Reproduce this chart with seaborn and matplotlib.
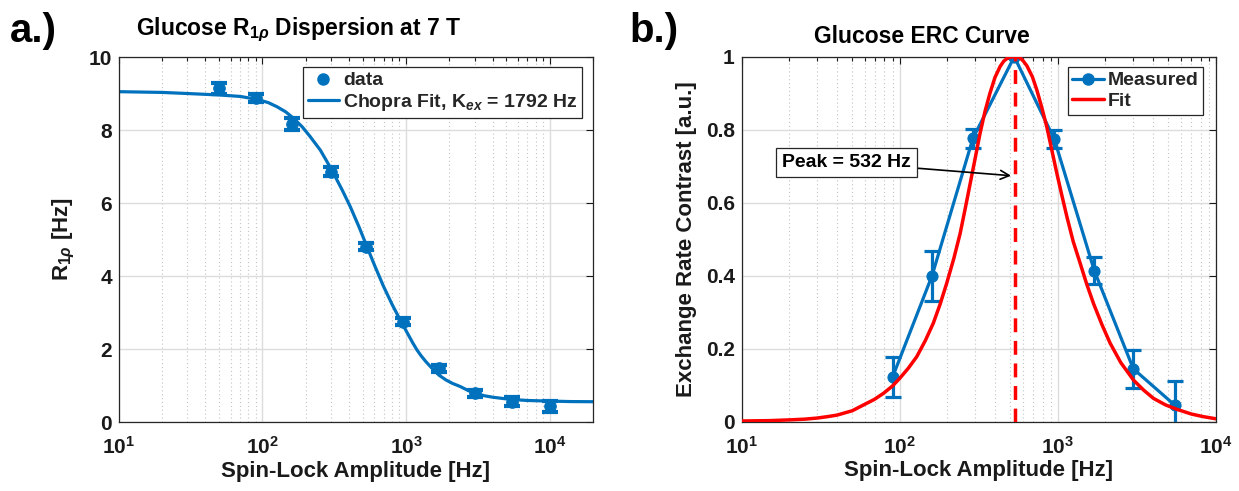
import matplotlib
matplotlib.use("Agg")
import matplotlib.pyplot as plt
from matplotlib.lines import Line2D
from matplotlib.ticker import LogLocator, NullFormatter, FixedLocator
import seaborn as sns
import pandas as pd

# ---------------- data ----------------
# Panel a: R1rho dispersion
spinlock_a = [50, 90, 160, 300, 530, 950, 1700, 3000, 5500, 10000]
r1rho = [9.14, 8.88, 8.16, 6.86, 4.80, 2.75, 1.47, 0.79, 0.56, 0.43]
r1rho_err = [0.15, 0.10, 0.16, 0.12, 0.10, 0.10, 0.10, 0.10, 0.12, 0.15]

fit_a_x = [10, 20, 30, 50, 70, 92, 110, 126, 145, 165, 190, 215, 253, 282, 313, 360,
           409, 470, 535, 610, 698, 800, 912, 1050, 1120, 1193, 1270, 1370, 1559,
           1700, 1900, 2100, 2390, 2650, 2960, 3500, 4000, 4600, 5330, 7000, 9620,
           14000, 20300]
fit_a_y = [9.05, 9.03, 9.00, 8.96, 8.92, 8.84, 8.75, 8.64, 8.50, 8.32, 8.08, 7.82,
           7.45, 7.13, 6.81, 6.35, 5.90, 5.35, 4.80, 4.25, 3.71, 3.22, 2.79, 2.35,
           2.15, 1.97, 1.82, 1.66, 1.42, 1.28, 1.15, 1.06, 0.97, 0.88, 0.80, 0.72,
           0.68, 0.65, 0.62, 0.59, 0.575, 0.56, 0.556]
kex = 1792

# Panel b: ERC curve
spinlock_b = [90, 160, 290, 530, 950, 1700, 3000, 5500]
erc = [0.122, 0.40, 0.776, 1.0, 0.774, 0.414, 0.145, 0.045]
erc_err = [0.055, 0.068, 0.026, 0.004, 0.025, 0.038, 0.052, 0.066]

fit_b_x = [10, 15, 20, 25, 30, 35, 40, 50, 59, 69, 79, 90, 100, 113, 128, 145, 163,
           180, 198, 220, 241, 260, 279, 300, 322, 346, 372, 400, 431, 455, 480, 505,
           532, 560, 580, 605, 637, 690, 736, 790, 851, 915, 986, 1060, 1140, 1250,
           1384, 1520, 1680, 1900, 2142, 2500, 3010, 3500, 4025, 4800, 5660, 7000,
           8300, 10000]
fit_b_y = [0.002, 0.003, 0.005, 0.007, 0.010, 0.014, 0.018, 0.030, 0.046, 0.061,
           0.078, 0.098, 0.119, 0.146, 0.178, 0.222, 0.270, 0.322, 0.379, 0.448,
           0.516, 0.586, 0.653, 0.722, 0.790, 0.850, 0.900, 0.943, 0.973, 0.988,
           0.996, 0.999, 1.0, 0.999, 0.996, 0.988, 0.975, 0.945, 0.909, 0.862,
           0.808, 0.745, 0.680, 0.620, 0.562, 0.494, 0.434, 0.378, 0.324, 0.266,
           0.215, 0.162, 0.114, 0.086, 0.064, 0.046, 0.034, 0.021, 0.014, 0.008]
peak_hz = 532

BLUE = "#0072BD"
RED = "#FF0000"
DARK = "#1a1a1a"

sns.set_theme(style="white")
plt.rcParams['font.family'] = ['Liberation Sans', 'DejaVu Sans']
plt.rcParams['font.weight'] = 'bold'
plt.rcParams['mathtext.fontset'] = 'custom'
plt.rcParams['mathtext.rm'] = 'Liberation Sans:bold'
plt.rcParams['mathtext.it'] = 'Liberation Sans:italic:bold'
plt.rcParams['mathtext.bf'] = 'Liberation Sans:bold'
plt.rcParams['axes.unicode_minus'] = False

fig = plt.figure(figsize=(12.39, 4.91), dpi=100)
axA = fig.add_axes([0.0958, 0.1405, 0.3828, 0.7434])
axB = fig.add_axes([0.5986, 0.1411, 0.3828, 0.7434])

TICK_FS = 15
LAB_FS = 16
TITLE_FS = 16.5


def style_axes(ax, xlim, ylim, yticks, ylabels):
    ax.set_xscale('log')
    ax.set_xlim(*xlim)
    ax.set_ylim(*ylim)
    ax.xaxis.set_major_locator(LogLocator(base=10, numticks=10))
    ax.xaxis.set_minor_locator(LogLocator(base=10, subs=range(2, 10), numticks=20))
    ax.xaxis.set_minor_formatter(NullFormatter())
    ax.yaxis.set_major_locator(FixedLocator(yticks))
    ax.set_yticklabels(ylabels)
    ax.grid(which='major', color='#dcdcdc', linestyle='-', linewidth=1.0)
    ax.grid(which='minor', axis='x', color='#c4c4c4', linestyle=(0, (1, 2.5)), linewidth=0.8)
    ax.set_axisbelow(True)
    ax.tick_params(which='both', direction='in', top=True, right=True,
                   labelsize=TICK_FS, colors=DARK, width=0.8)
    ax.tick_params(which='major', length=5)
    ax.tick_params(which='minor', length=3)
    ax.tick_params(axis='x', pad=10)
    ax.tick_params(axis='y', pad=5)
    for s in ax.spines.values():
        s.set_color('#262626')
        s.set_linewidth(0.9)


# ---------------- panel a ----------------
style_axes(axA, (10, 20000), (0, 10), [0, 2, 4, 6, 8, 10], ['0', '2', '4', '6', '8', '10'])
dfA = pd.DataFrame({'x': fit_a_x, 'y': fit_a_y})
sns.lineplot(data=dfA, x='x', y='y', ax=axA, color=BLUE, linewidth=2.3, estimator=None, sort=False)
axA.errorbar(spinlock_a, r1rho, yerr=r1rho_err, fmt='none', ecolor=BLUE, elinewidth=3,
             capsize=6, capthick=3, zorder=3)
sns.scatterplot(x=spinlock_a, y=r1rho, ax=axA, color=BLUE, s=70, edgecolor=BLUE, zorder=4)
axA.set_xlabel('Spin-Lock Amplitude [Hz]', fontsize=LAB_FS, fontweight='bold', color=DARK,
               labelpad=2)
axA.set_ylabel(r'R$_{1\rho}$ [Hz]', fontsize=LAB_FS, fontweight='bold', color=DARK, labelpad=8)
axA.set_title(r'Glucose R$_{1\rho}$ Dispersion at 7 T', fontsize=TITLE_FS, fontweight='bold',
              x=0.38, pad=16, color='black')
hA = [Line2D([], [], color=BLUE, marker='o', linestyle='none', markersize=8),
      Line2D([], [], color=BLUE, linewidth=2.3)]
legA = axA.legend(hA, ['data', 'Chopra Fit, K$_{ex}$ = ' + f'{kex} Hz'], loc='upper right',
                  bbox_to_anchor=(0.977, 0.973), borderaxespad=0, fancybox=False,
                  framealpha=1, edgecolor='#262626', fontsize=14, handlelength=1.6,
                  handletextpad=0.2, borderpad=0.25, labelspacing=0.15)
legA.get_frame().set_linewidth(0.9)

# ---------------- panel b ----------------
style_axes(axB, (10, 10000), (0, 1), [0, 0.2, 0.4, 0.6, 0.8, 1.0],
           ['0', '0.2', '0.4', '0.6', '0.8', '1'])
dfB = pd.DataFrame({'x': fit_b_x, 'y': fit_b_y})
axB.errorbar(spinlock_b, erc, yerr=erc_err, fmt='none', ecolor=BLUE, elinewidth=2.3,
             capsize=6, capthick=2.3, zorder=3)
sns.lineplot(x=spinlock_b, y=erc, ax=axB, color=BLUE, linewidth=2.3, marker='o',
             markersize=8, markeredgecolor=BLUE, estimator=None, sort=False, zorder=3)
sns.lineplot(data=dfB, x='x', y='y', ax=axB, color=RED, linewidth=2.5, estimator=None,
             sort=False, zorder=4)
axB.plot([peak_hz, peak_hz], [0, 1], color=RED, linewidth=2.5, linestyle=(0, (4, 2.5)), zorder=4)
axB.annotate(f'Peak = {peak_hz} Hz', xy=(506, 0.674), xytext=(46, 0.71),
             ha='center', va='center', fontsize=14, fontweight='bold', color='black',
             bbox=dict(boxstyle='square,pad=0.3', fc='white', ec='#262626', lw=0.9),
             arrowprops=dict(arrowstyle='->', color='black', lw=1.2, mutation_scale=16,
                             shrinkA=0, shrinkB=0), zorder=6)
axB.set_xlabel('Spin-Lock Amplitude [Hz]', fontsize=LAB_FS, fontweight='bold', color=DARK,
               labelpad=2)
axB.set_ylabel('Exchange Rate Contrast [a.u.]', fontsize=LAB_FS, fontweight='bold',
               color=DARK, labelpad=6)
axB.set_title('Glucose ERC Curve', fontsize=TITLE_FS, fontweight='bold', x=0.38, pad=10,
              color='black')
hB = [Line2D([], [], color=BLUE, marker='o', linewidth=2.3, markersize=8),
      Line2D([], [], color=RED, linewidth=2.5)]
legB = axB.legend(hB, ['Measured', 'Fit'], loc='upper right', bbox_to_anchor=(0.973, 0.972),
                  borderaxespad=0, fancybox=False, framealpha=1, edgecolor='#262626',
                  fontsize=14, handlelength=1.6, handletextpad=0.2, borderpad=0.25,
                  labelspacing=0.15)
legB.get_frame().set_linewidth(0.9)

fig.text(0.008, 0.975, 'a.)', fontsize=29, fontweight='bold', va='top', ha='left', color='black')
fig.text(0.508, 0.975, 'b.)', fontsize=29, fontweight='bold', va='top', ha='left', color='black')

fig.savefig('out.png', dpi=100)
